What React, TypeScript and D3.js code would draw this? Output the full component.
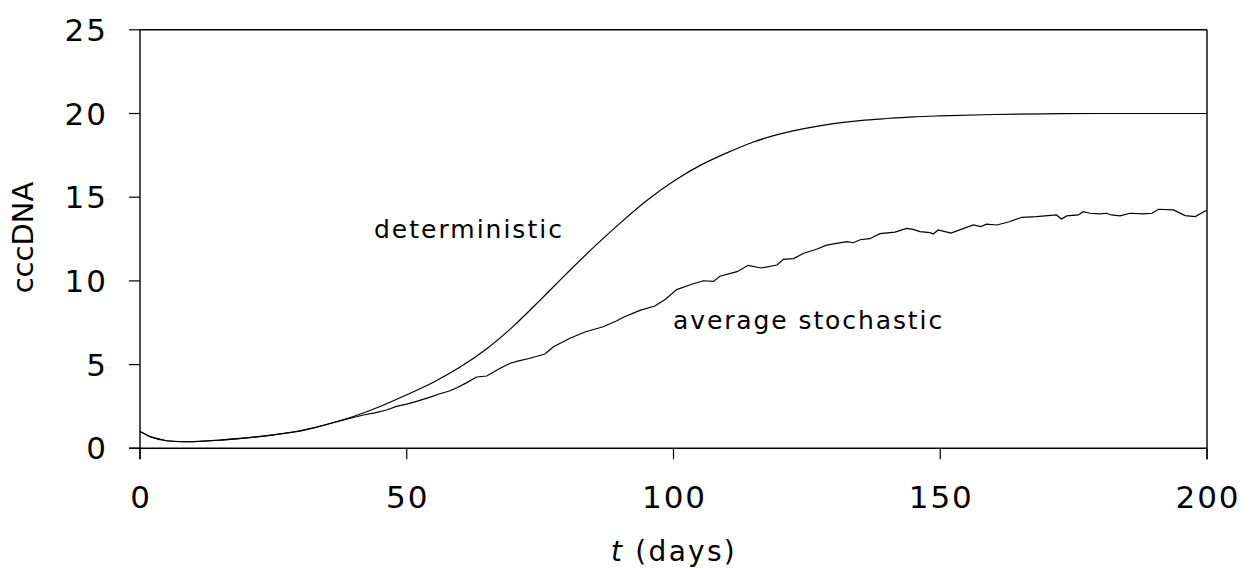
import React from "react";
import * as d3 from "d3";

const xTicks = [0, 50, 100, 150, 200];
const yTicks = [0, 5, 10, 15, 20, 25];

const detT = [0, 2, 5, 8, 10, 15, 20, 25, 30, 35, 40, 45, 50, 55, 60, 65, 70, 75, 80, 85, 90, 95, 100, 105, 110, 115, 120, 125, 130, 135, 140, 145, 150, 160, 170, 180, 200];
const detV = [1.0, 0.68, 0.45, 0.39, 0.4, 0.49, 0.62, 0.8, 1.05, 1.42, 1.9, 2.5, 3.2, 3.95, 4.85, 5.95, 7.3, 8.85, 10.45, 12.0, 13.45, 14.8, 15.95, 16.9, 17.65, 18.3, 18.78, 19.13, 19.4, 19.58, 19.7, 19.8, 19.86, 19.94, 19.98, 20.0, 20.0];

const stochT = [0, 2, 5, 8, 10, 15, 20, 25, 30, 33, 35.6, 38, 40, 41.9, 44, 46.2, 48.1, 50, 52, 54.4, 56.2, 58, 59.4, 61, 63.1, 65, 67.5, 69.4, 71, 73.1, 75.9, 77.5, 80.6, 83.4, 86.8, 89.3, 90.6, 93.7, 96.5, 98.5, 100.6, 103.4, 105.6, 107.5, 108.7, 111.9, 114, 116.4, 119.4, 120.6, 122.5, 124.4, 126.8, 128.7, 132.5, 133.7, 135, 136.8, 138.7, 141.5, 143.7, 144.9, 146.2, 148.1, 148.7, 149.6, 152, 153.9, 156.2, 157.6, 158.7, 160.6, 162.8, 165.3, 168, 171.8, 172.7, 173.7, 175.9, 176.8, 178.1, 179.9, 181.2, 182.1, 183.7, 185.6, 188.1, 189.7, 190.9, 193.7, 195.9, 197.8, 200];
const stochV = [1.0, 0.68, 0.45, 0.39, 0.4, 0.49, 0.62, 0.8, 1.03, 1.25, 1.48, 1.68, 1.84, 1.99, 2.12, 2.29, 2.5, 2.64, 2.82, 3.06, 3.26, 3.42, 3.62, 3.88, 4.26, 4.32, 4.78, 5.08, 5.22, 5.38, 5.63, 6.07, 6.57, 6.95, 7.26, 7.6, 7.83, 8.24, 8.5, 8.9, 9.48, 9.8, 10.01, 9.97, 10.28, 10.55, 10.93, 10.77, 10.95, 11.29, 11.33, 11.65, 11.89, 12.14, 12.34, 12.28, 12.46, 12.52, 12.82, 12.91, 13.14, 13.08, 12.94, 12.88, 12.8, 13.04, 12.86, 13.08, 13.34, 13.24, 13.39, 13.34, 13.52, 13.8, 13.84, 13.94, 13.7, 13.88, 13.94, 14.13, 14.04, 14.0, 14.04, 13.94, 13.88, 14.04, 14.0, 14.04, 14.28, 14.24, 13.9, 13.84, 14.24];

const labelDet = "deterministic";
const labelStoch = "average stochastic";
const xTitleVar = "t";
const xTitleRest = " (days)";
const yTitle = "cccDNA";

export default function App() {
  const W = 1240, H = 569;
  const left = 140, right = 1207, top = 29.8, bottom = 448.3;
  const x = d3.scaleLinear().domain([0, 200]).range([left, right]);
  const y = d3.scaleLinear().domain([0, 25]).range([bottom, top]);
  const detLine = d3.line<number>().x((_, i) => x(detT[i])).y((d) => y(d)).curve(d3.curveMonotoneX);
  const stochLine = d3.line<number>().x((_, i) => x(stochT[i])).y((d) => y(d));
  const font = "DejaVu Sans, sans-serif";
  const tickLs = 2;
  return (
    <svg width={W} height={H} style={{ position: "absolute", left: 0, top: 0, background: "#fff" }} fontFamily={font}>
      <rect x={0} y={0} width={W} height={H} fill="#fff" />
      <line x1={left} x2={right} y1={top} y2={top} stroke="#000" strokeWidth={1.4} />
      <line x1={right} x2={right} y1={top} y2={bottom + 11} stroke="#000" strokeWidth={1.4} />
      <line x1={left} x2={left} y1={top} y2={bottom + 11} stroke="#000" strokeWidth={1.4} />
      <line x1={left - 11} x2={right} y1={bottom} y2={bottom} stroke="#000" strokeWidth={1.4} />
      {yTicks.map((t) => (
        <g key={"y" + t}>
          <line x1={left - 11} x2={left} y1={y(t)} y2={y(t)} stroke="#000" strokeWidth={1.2} />
          <text x={106 + tickLs} y={y(t)} dy="0.36em" textAnchor="end" fontSize={31} letterSpacing={tickLs}>{t}</text>
        </g>
      ))}
      {xTicks.map((t) => (
        <g key={"x" + t}>
          <line x1={x(t)} x2={x(t)} y1={bottom} y2={bottom + 11} stroke="#000" strokeWidth={1.2} />
          <text x={x(t) + tickLs / 2} y={508} textAnchor="middle" fontSize={31} letterSpacing={tickLs}>{t}</text>
        </g>
      ))}
      <path d={detLine(detV) || ""} fill="none" stroke="#000" strokeWidth={1.2} />
      <path d={stochLine(stochV) || ""} fill="none" stroke="#000" strokeWidth={1.2} />
      <text x={374} y={238} fontSize={25} letterSpacing={2}>{labelDet}</text>
      <text x={673} y={329} fontSize={25} letterSpacing={1.9}>{labelStoch}</text>
      <text x={674} y={561} textAnchor="middle" fontSize={28} letterSpacing={2.3}>
        <tspan fontStyle="italic">{xTitleVar}</tspan>
        <tspan>{xTitleRest}</tspan>
      </text>
      <text transform={`translate(33,${237.5}) rotate(-90)`} textAnchor="middle" fontSize={29}>{yTitle}</text>
    </svg>
  );
}
